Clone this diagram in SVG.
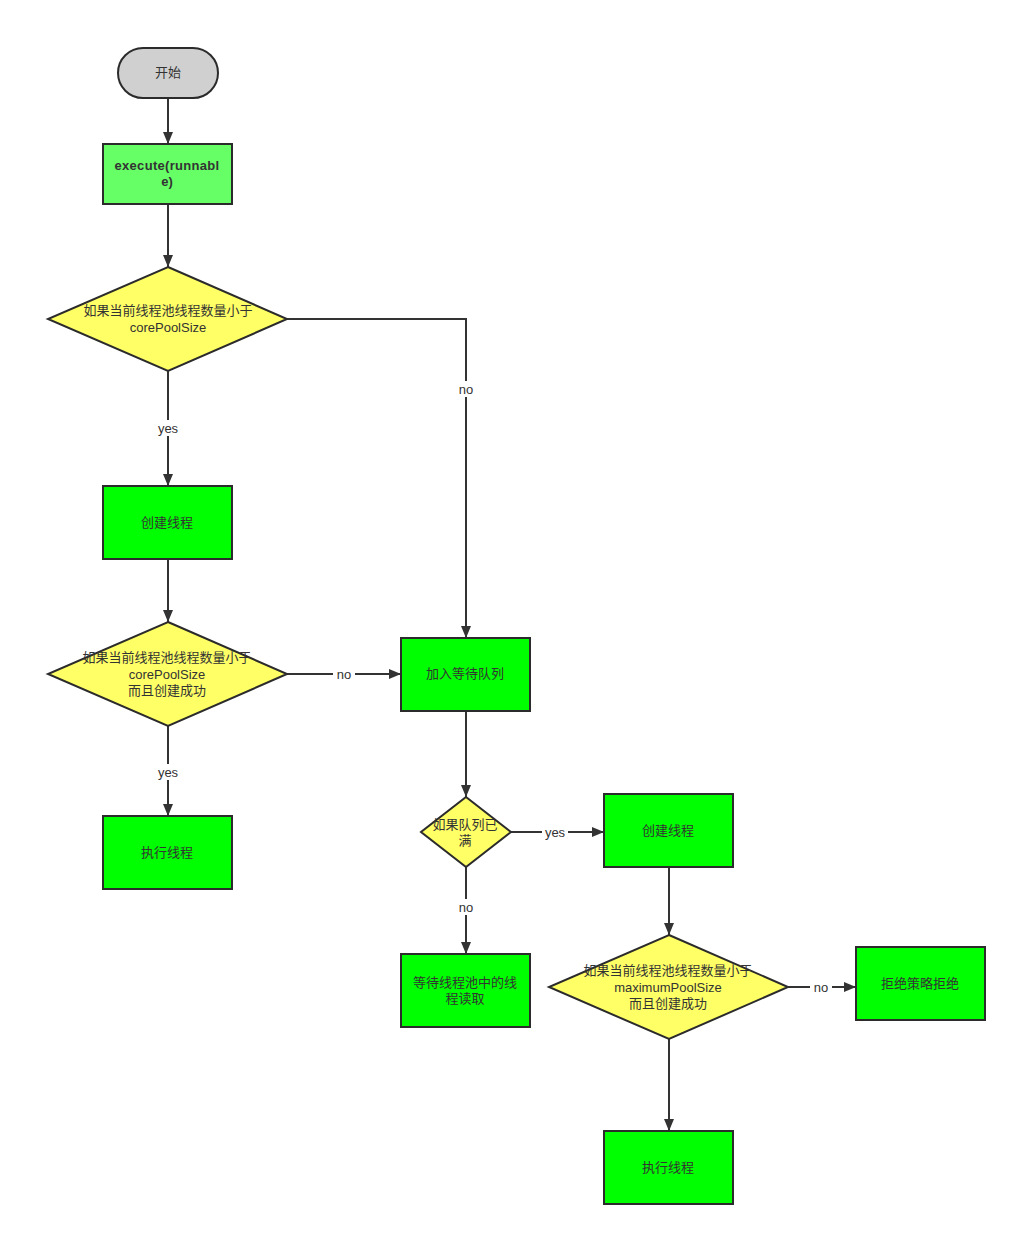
<svg xmlns="http://www.w3.org/2000/svg" width="1017" height="1236" viewBox="0 0 1017 1236">
<defs>
<marker id="arr" viewBox="0 0 12 10" refX="12" refY="5" markerWidth="12" markerHeight="10" markerUnits="userSpaceOnUse" orient="auto">
<path d="M0,0 L12,5 L0,10 Z" fill="#333"/>
</marker>
</defs>
<style>
text{font-family:"Liberation Sans","Noto Sans CJK SC",sans-serif;font-size:13px;fill:#333;text-anchor:middle;dominant-baseline:central}
.box{fill:#00ff00;stroke:#2b2b2b;stroke-width:2}
.dia{fill:#ffff66;stroke:#2b2b2b;stroke-width:2}
.line{fill:none;stroke:#333;stroke-width:2;marker-end:url(#arr)}
.lbl{fill:#fff}
</style>
<rect width="1017" height="1236" fill="#fff"/>
<g id="connectors">
<path class="line" d="M168,98 V144"/>
<path class="line" d="M168,204 V267"/>
<path class="line" d="M168,371 V486"/>
<path class="line" d="M287,319 H466 V638"/>
<path class="line" d="M168,559 V622"/>
<path class="line" d="M287,674 H401"/>
<path class="line" d="M168,726 V816"/>
<path class="line" d="M466,711 V797"/>
<path class="line" d="M511,832 H604"/>
<path class="line" d="M466,867 V954"/>
<path class="line" d="M669,867 V935"/>
<path class="line" d="M788,987 H856"/>
<path class="line" d="M669,1039 V1131"/>
<rect class="lbl" x="155" y="420" width="26" height="16"/><text x="168" y="428">yes</text>
<rect class="lbl" x="455" y="381" width="22" height="16"/><text x="466" y="389">no</text>
<rect class="lbl" x="333" y="666" width="22" height="16"/><text x="344" y="674">no</text>
<rect class="lbl" x="155" y="764" width="26" height="16"/><text x="168" y="772">yes</text>
<rect class="lbl" x="542" y="824" width="26" height="16"/><text x="555" y="832">yes</text>
<rect class="lbl" x="455" y="899" width="22" height="16"/><text x="466" y="907">no</text>
<rect class="lbl" x="810" y="979" width="22" height="16"/><text x="821" y="987">no</text>
</g>
<g id="start">
<rect x="118" y="48" width="100" height="50" rx="25" ry="25" fill="#d0d0d0" stroke="#2b2b2b" stroke-width="2"/>
<text x="168" y="72">开始</text>
</g>
<g id="execute">
<rect x="103" y="144" width="129" height="60" fill="#66ff66" stroke="#2b2b2b" stroke-width="2"/>
<text x="167" y="165" font-size="12" font-weight="bold" letter-spacing="0.3">execute(runnabl</text>
<text x="167" y="181" font-size="12" font-weight="bold">e)</text>
</g>
<g id="dec1">
<polygon class="dia" points="168,267 287,319 168,371 48,319"/>
<text x="168" y="310">如果当前线程池线程数量小于</text>
<text x="168" y="327">corePoolSize</text>
</g>
<g id="create1">
<rect class="box" x="103" y="486" width="129" height="73"/>
<text x="167" y="522">创建线程</text>
</g>
<g id="dec2">
<polygon class="dia" points="168,622 287,674 168,726 48,674"/>
<text x="167" y="657">如果当前线程池线程数量小于</text>
<text x="167" y="674">corePoolSize</text>
<text x="167" y="690">而且创建成功</text>
</g>
<g id="exec1">
<rect class="box" x="103" y="816" width="129" height="73"/>
<text x="167" y="852">执行线程</text>
</g>
<g id="enqueue">
<rect class="box" x="401" y="638" width="129" height="73"/>
<text x="465" y="673">加入等待队列</text>
</g>
<g id="dec3">
<polygon class="dia" points="466,797 511,832 466,867 421,832"/>
<text x="465" y="824">如果队列已</text>
<text x="465" y="840">满</text>
</g>
<g id="wait">
<rect class="box" x="401" y="954" width="129" height="73"/>
<text x="465" y="982">等待线程池中的线</text>
<text x="465" y="998">程读取</text>
</g>
<g id="create2">
<rect class="box" x="604" y="794" width="129" height="73"/>
<text x="668" y="830">创建线程</text>
</g>
<g id="dec4">
<polygon class="dia" points="669,935 788,987 669,1039 549,987"/>
<text x="668" y="970">如果当前线程池线程数量小于</text>
<text x="668" y="987">maximumPoolSize</text>
<text x="668" y="1003">而且创建成功</text>
</g>
<g id="reject">
<rect class="box" x="856" y="947" width="129" height="73"/>
<text x="920" y="983">拒绝策略拒绝</text>
</g>
<g id="exec2">
<rect class="box" x="604" y="1131" width="129" height="73"/>
<text x="668" y="1167">执行线程</text>
</g>
</svg>
